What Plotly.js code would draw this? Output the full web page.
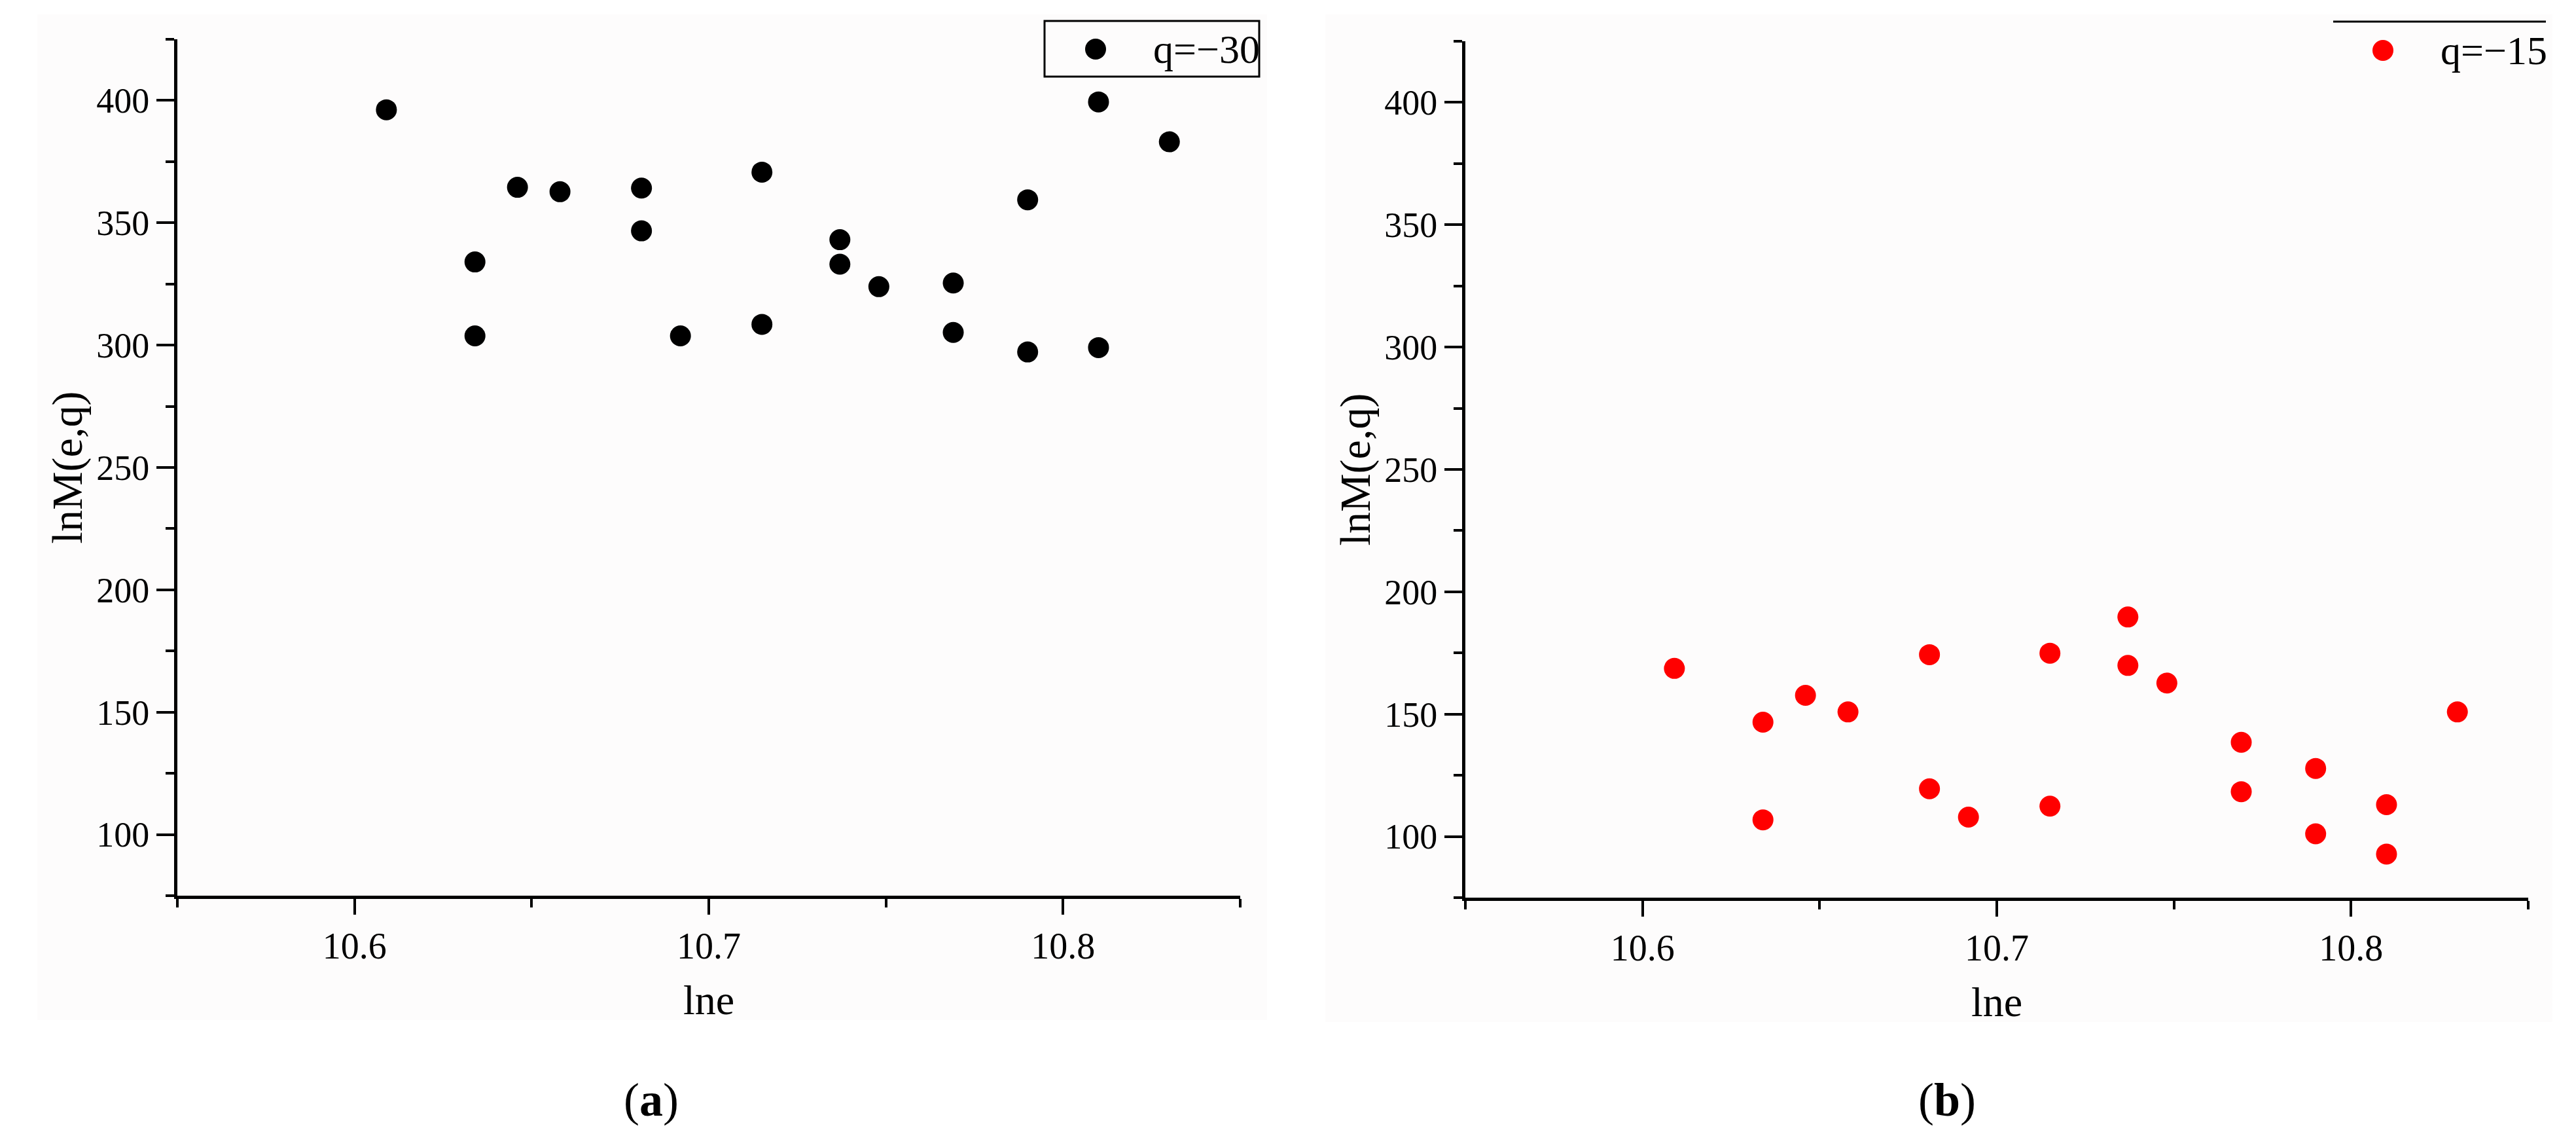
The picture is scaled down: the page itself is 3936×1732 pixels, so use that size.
<!DOCTYPE html>
<html>
<head>
<meta charset="utf-8">
<script src="https://cdn.plot.ly/plotly-3.0.1.min.js"></script>
<style>
  html, body { margin: 0; padding: 0; background: #ffffff; }
  #chart { width: 3936px; height: 1732px; }
</style>
</head>
<body>
<div id="chart"></div>
<script>
// lne values, shared by both panels
var lnE = [10.609, 10.634, 10.634, 10.646, 10.658, 10.681, 10.681, 10.692, 10.715, 10.715,
           10.737, 10.737, 10.748, 10.769, 10.769, 10.790, 10.790, 10.810, 10.810, 10.830];
// lnM(e,q) for q=-30 (panel a)
var lnM_q30 = [396.2, 334.0, 303.8, 364.5, 362.7, 364.2, 346.7, 303.8, 370.7, 308.5,
               343.1, 333.1, 323.9, 325.4, 305.2, 359.4, 297.2, 399.4, 299.0, 383.1];
// lnM(e,q) for q=-15 (panel b)
var lnM_q15 = [168.7, 146.7, 106.8, 157.7, 150.9, 174.3, 119.5, 107.9, 174.9, 112.4,
               189.7, 169.9, 162.7, 138.5, 118.3, 127.8, 101.1, 113.0, 92.8, 150.9];
var seriesNames = ['q=\u221230', 'q=\u221215'];
var seriesColors = ['#000000', '#ff0000'];
var captions = ['(<b>a</b>)', '(<b>b</b>)'];
var xTicks = [10.6, 10.7, 10.8];
var yTicks = [100, 150, 200, 250, 300, 350, 400];

var W = 3936, H = 1732;
function px(x) { return x / W; }
function py(y) { return 1 - y / H; }

var serif = 'Liberation Serif, Times New Roman, serif';

var data = [
  {
    x: lnE, y: lnM_q30,
    mode: 'markers', type: 'scatter',
    name: seriesNames[0],
    marker: { size: 32, color: seriesColors[0] },
    xaxis: 'x', yaxis: 'y'
  },
  {
    x: lnE, y: lnM_q15,
    mode: 'markers', type: 'scatter',
    name: seriesNames[1],
    marker: { size: 32, color: seriesColors[1] },
    xaxis: 'x2', yaxis: 'y2'
  }
];

function xAxis(dom, anchor) {
  return {
    domain: dom, anchor: anchor,
    range: [10.55, 10.85],
    tickvals: xTicks,
    ticktext: xTicks.map(function (v) { return v.toFixed(1); }),
    ticks: 'outside', ticklen: 24, tickwidth: 4, tickcolor: '#000',
    minor: { tickvals: [10.55, 10.65, 10.75, 10.85], ticks: 'outside', ticklen: 13, tickwidth: 4, tickcolor: '#000' },
    showline: true, linewidth: 5, linecolor: '#000',
    showgrid: false, zeroline: false,
    tickfont: { family: serif, size: 56, color: '#000' },
    title: { text: 'lne', font: { family: serif, size: 64, color: '#000' }, standoff: 30 }
  };
}
function yAxis(dom, anchor) {
  return {
    domain: dom, anchor: anchor,
    range: [75, 425],
    tickvals: yTicks,
    ticks: 'outside', ticklen: 27, tickwidth: 4, tickcolor: '#000',
    minor: { tickvals: [75, 125, 175, 225, 275, 325, 375, 425], ticks: 'outside', ticklen: 13, tickwidth: 4, tickcolor: '#000' },
    showline: true, linewidth: 5, linecolor: '#000',
    showgrid: false, zeroline: false,
    tickfont: { family: serif, size: 54, color: '#000' },
    title: { text: 'lnM(e,q)', font: { family: serif, size: 66, color: '#000' }, standoff: 2 }
  };
}

// legend boxes drawn by hand (Plotly caps legend marker size)
var legBox = [
  { x0: 1596, x1: 1924, y0: 32, y1: 117, mx: 1674, my: 75, tx: 1760 },
  { x0: 3565, x1: 3890, y0: 33, y1: 118, mx: 3641, my: 77, tx: 3727 }
];

var shapes = [
  { type: 'rect', xref: 'paper', yref: 'paper', layer: 'below',
    x0: px(57), x1: px(1936), y0: py(1558), y1: py(22),
    fillcolor: '#fdfcfc', line: { width: 0 } },
  { type: 'rect', xref: 'paper', yref: 'paper', layer: 'below',
    x0: px(2025), x1: px(3900), y0: py(1561), y1: py(22),
    fillcolor: '#fdfcfc', line: { width: 0 } },
  // panel a: full box
  { type: 'rect', xref: 'paper', yref: 'paper',
    x0: px(legBox[0].x0), x1: px(legBox[0].x1), y0: py(legBox[0].y1), y1: py(legBox[0].y0),
    line: { color: '#000', width: 3 } },
  // panel b: only the top edge shows
  { type: 'line', xref: 'paper', yref: 'paper',
    x0: px(legBox[1].x0), x1: px(legBox[1].x1), y0: py(legBox[1].y0), y1: py(legBox[1].y0),
    line: { color: '#000', width: 3 } }
];
var annotations = [];
for (var i = 0; i < 2; i++) {
  var b = legBox[i];
  shapes.push({ type: 'circle', xref: 'paper', yref: 'paper',
    x0: px(b.mx - 16), x1: px(b.mx + 16), y0: py(b.my + 16), y1: py(b.my - 16),
    fillcolor: seriesColors[i], line: { width: 0 } });
  annotations.push({ text: seriesNames[i], xref: 'paper', yref: 'paper',
    x: px(b.tx), y: py(b.my), xanchor: 'left', yanchor: 'middle', showarrow: false,
    font: { family: serif, size: 62, color: '#000' } });
}
annotations.push(
  { text: captions[0], xref: 'paper', yref: 'paper', x: px(995), y: py(1680),
    xanchor: 'center', yanchor: 'middle', showarrow: false,
    font: { family: serif, size: 72, color: '#000' } },
  { text: captions[1], xref: 'paper', yref: 'paper', x: px(2975), y: py(1680),
    xanchor: 'center', yanchor: 'middle', showarrow: false,
    font: { family: serif, size: 72, color: '#000' } }
);

var layout = {
  width: W, height: H,
  margin: { l: 0, r: 0, t: 0, b: 0 },
  paper_bgcolor: '#ffffff',
  plot_bgcolor: 'rgba(0,0,0,0)',
  xaxis: xAxis([px(271), px(1895)], 'y'),
  yaxis: yAxis([py(1368), py(60)], 'x'),
  xaxis2: xAxis([px(2239), px(3863)], 'y2'),
  yaxis2: yAxis([py(1371), py(63)], 'x2'),
  shapes: shapes,
  annotations: annotations,
  showlegend: false
};

Plotly.newPlot('chart', data, layout, { staticPlot: true });
</script>
</body>
</html>
